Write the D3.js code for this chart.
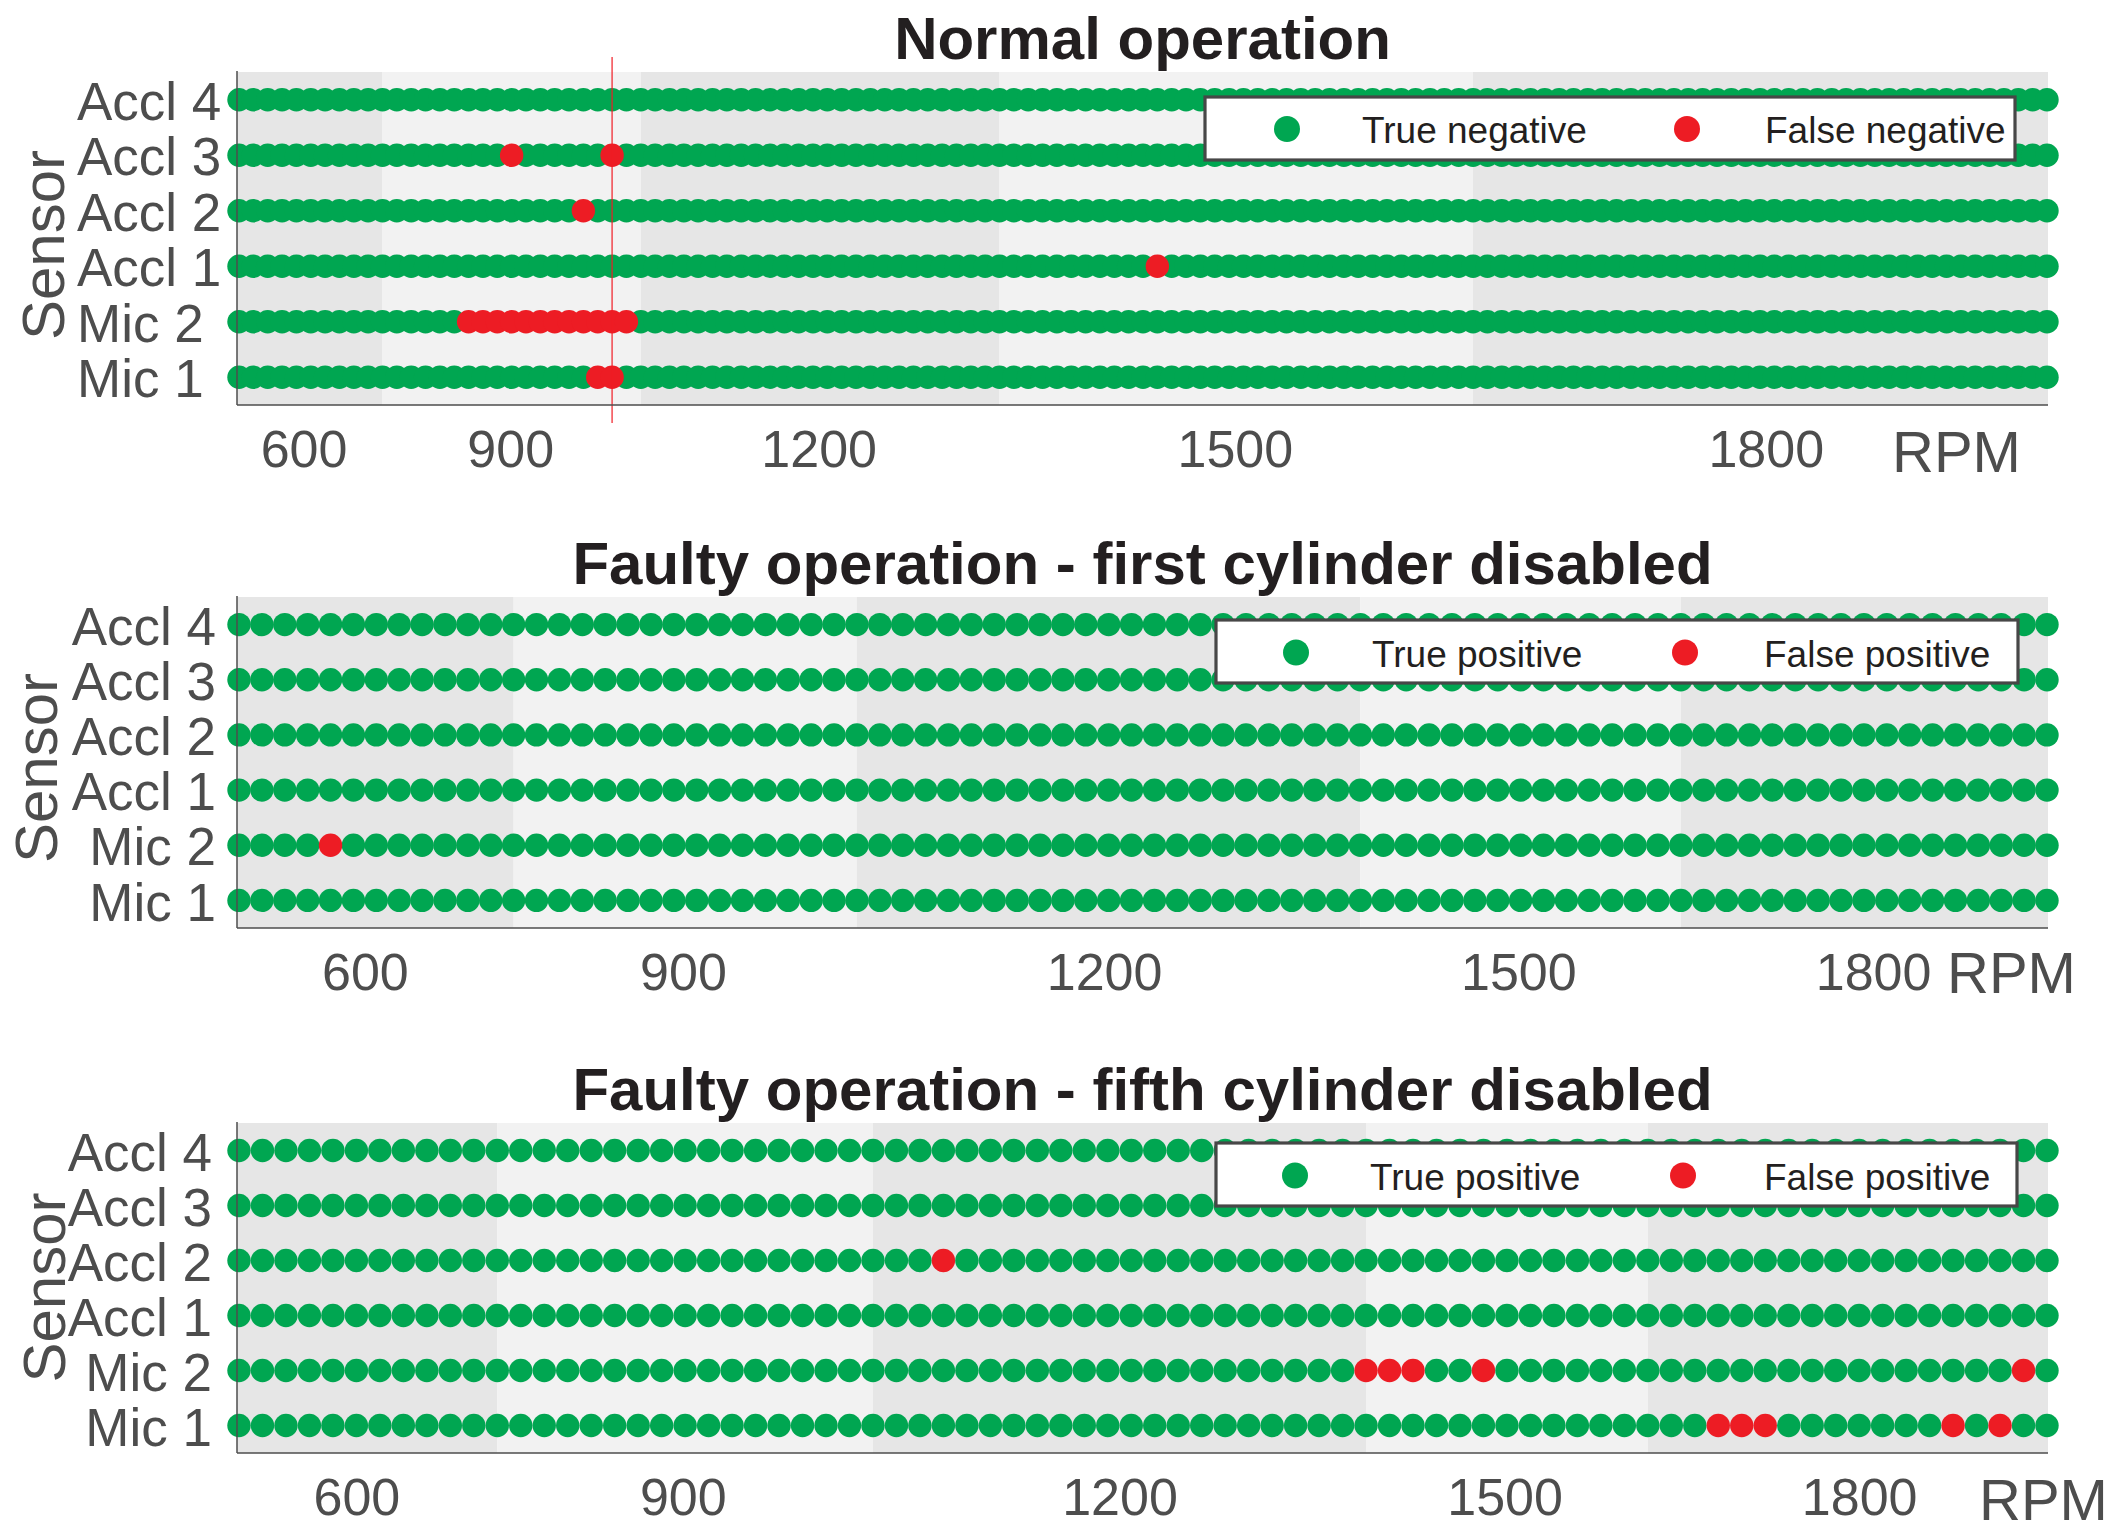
<!DOCTYPE html>
<html>
<head>
<meta charset="utf-8">
<script src="https://cdn.jsdelivr.net/npm/d3@7"></script>
<style>
  html, body { margin: 0; padding: 0; background: #ffffff; }
  svg { display: block; }
</style>
</head>
<body>
<svg id="chart" width="2124" height="1539"></svg>
<script>
// ---------------- data ----------------
const sensors = ["Accl 4", "Accl 3", "Accl 2", "Accl 1", "Mic 2", "Mic 1"];
const rpmTicks = [600, 900, 1200, 1500, 1800];

// Panel 1: normal operation
const normalTitle = "Normal operation";
const normalSamples = 127;
const normalTickIdx = [4.5, 18.9, 40.4, 69.4, 106.4];
const normalBandEdges = [10, 28, 53, 86];
const normalWrong = [
  ["Accl 3", 19], ["Accl 3", 26],
  ["Accl 2", 24],
  ["Accl 1", 64],
  ["Mic 2", 16], ["Mic 2", 17], ["Mic 2", 18], ["Mic 2", 19], ["Mic 2", 20], ["Mic 2", 21],
  ["Mic 2", 22], ["Mic 2", 23], ["Mic 2", 24], ["Mic 2", 25], ["Mic 2", 26], ["Mic 2", 27],
  ["Mic 1", 25], ["Mic 1", 26]
];
const normalMarker = [26];
const normalLegend = ["True negative", "False negative"];

// Panel 2: first cylinder disabled
const cyl1Title = "Faulty operation - first cylinder disabled";
const cyl1Samples = 80;
const cyl1TickIdx = [5.5, 19.4, 37.8, 55.9, 71.4];
const cyl1BandEdges = [12, 27, 49, 63];
const cyl1Wrong = [["Mic 2", 4]];
const cyl1Legend = ["True positive", "False positive"];

// Panel 3: fifth cylinder disabled
const cyl5Title = "Faulty operation - fifth cylinder disabled";
const cyl5Samples = 78;
const cyl5TickIdx = [5.0, 18.9, 37.5, 53.9, 69.0];
const cyl5BandEdges = [11, 27, 48, 60];
const cyl5Wrong = [
  ["Accl 2", 30],
  ["Mic 2", 48], ["Mic 2", 49], ["Mic 2", 50], ["Mic 2", 53], ["Mic 2", 76],
  ["Mic 1", 63], ["Mic 1", 64], ["Mic 1", 65], ["Mic 1", 73], ["Mic 1", 75]
];
const cyl5Legend = ["True positive", "False positive"];

// ---------------- styling / layout ----------------
const FONT = "'Liberation Sans', Arial, Helvetica, sans-serif";
const GREEN = "#00a651", RED = "#ed1c24";
const BAND_DARK = "#e6e6e6", BAND_LIGHT = "#f2f2f2";
const AXIS_GRAY = "#4d4d4d", TITLE_COL = "#231f20";
const PLOT_L = 237, PLOT_R = 2048, DOT_X0 = 239, DOT_X1 = 2047;
const DOT_R = 11.7;

const panels = [
  { title: normalTitle, n: normalSamples, ticks: normalTickIdx, bands: normalBandEdges,
    wrong: normalWrong, marker: normalMarker, legend: normalLegend,
    top: 72, bottom: 405, labelAnchor: "start", labelX: 77, sensorX: 64, sensorY: 245,
    rpmX: 1892, rpmY: 471.7,
    lg: { x0: 1205, x1: 2015, y0: 97, y1: 160, g: 1287, gt: 1362, r: 1687, rt: 1765, cy: 129 } },
  { title: cyl1Title, n: cyl1Samples, ticks: cyl1TickIdx, bands: cyl1BandEdges,
    wrong: cyl1Wrong, marker: [], legend: cyl1Legend,
    top: 597, bottom: 928, labelAnchor: "end", labelX: 216, sensorX: 57, sensorY: 768,
    rpmX: 1947, rpmY: 993.3,
    lg: { x0: 1216, x1: 2018, y0: 620, y1: 683, g: 1296, gt: 1372, r: 1685, rt: 1764, cy: 652.5 } },
  { title: cyl5Title, n: cyl5Samples, ticks: cyl5TickIdx, bands: cyl5BandEdges,
    wrong: cyl5Wrong, marker: [], legend: cyl5Legend,
    top: 1123, bottom: 1453, labelAnchor: "end", labelX: 212, sensorX: 65, sensorY: 1287.5,
    rpmX: 1979, rpmY: 1520,
    lg: { x0: 1216, x1: 2017, y0: 1143, y1: 1206, g: 1295, gt: 1370, r: 1683, rt: 1764, cy: 1175.5 } }
];

const svg = d3.select("#chart");
svg.append("rect").attr("x", 0).attr("y", 0).attr("width", 2124).attr("height", 1539).attr("fill", "#ffffff");

panels.forEach(p => {
  const g = svg.append("g");
  const x = d3.scaleLinear().domain([0, p.n - 1]).range([DOT_X0, DOT_X1]);
  const y = d3.scalePoint().domain(sensors).range([p.top, p.bottom]).padding(0.5);

  // background bands
  const edges = [PLOT_L].concat(p.bands.map(b => x(b))).concat([PLOT_R]);
  g.append("g").selectAll("rect").data(d3.pairs(edges)).join("rect")
    .attr("x", d => d[0]).attr("y", p.top)
    .attr("width", d => d[1] - d[0]).attr("height", p.bottom - p.top)
    .attr("fill", (d, i) => i % 2 === 0 ? BAND_DARK : BAND_LIGHT);

  // points
  const wrongSet = new Set(p.wrong.map(w => w[0] + "|" + w[1]));
  const pts = [];
  sensors.forEach(s => d3.range(p.n).forEach(i => pts.push({ s, i, bad: wrongSet.has(s + "|" + i) })));
  g.append("g").selectAll("circle").data(pts.filter(d => !d.bad)).join("circle")
    .attr("cx", d => x(d.i)).attr("cy", d => y(d.s)).attr("r", DOT_R).attr("fill", GREEN);
  g.append("g").selectAll("circle").data(pts.filter(d => d.bad)).join("circle")
    .attr("cx", d => x(d.i)).attr("cy", d => y(d.s)).attr("r", DOT_R).attr("fill", RED);

  // marker line
  g.append("g").selectAll("line").data(p.marker).join("line")
    .attr("x1", d => x(d)).attr("x2", d => x(d))
    .attr("y1", p.top - 15).attr("y2", p.bottom + 18)
    .attr("stroke", "#f01c24").attr("stroke-width", 1.2);

  // axis lines
  g.append("line").attr("x1", PLOT_L).attr("x2", PLOT_L).attr("y1", p.top - 1).attr("y2", p.bottom)
    .attr("stroke", AXIS_GRAY).attr("stroke-width", 1.5);
  g.append("line").attr("x1", PLOT_L).attr("x2", PLOT_R).attr("y1", p.bottom).attr("y2", p.bottom)
    .attr("stroke", AXIS_GRAY).attr("stroke-width", 1.5);

  // x axis tick labels
  const xa = g.append("g").attr("transform", `translate(0,${p.bottom})`)
    .call(d3.axisBottom(x).tickValues(p.ticks).tickFormat((d, i) => rpmTicks[i]).tickSize(0));
  xa.select(".domain").remove();
  xa.selectAll("text").attr("y", 61.7).attr("dy", null)
    .attr("font-family", FONT).attr("font-size", 52).attr("fill", AXIS_GRAY);

  // y axis tick labels
  const ya = g.append("g").attr("transform", `translate(${p.labelX},0)`)
    .call(d3.axisLeft(y).tickSize(0));
  ya.select(".domain").remove();
  ya.selectAll("text").attr("x", 0).attr("dy", "0.37em")
    .attr("text-anchor", p.labelAnchor)
    .attr("font-family", FONT).attr("font-size", 53).attr("fill", AXIS_GRAY);

  // Sensor label
  g.append("text").attr("transform", `translate(${p.sensorX},${p.sensorY}) rotate(-90)`)
    .attr("text-anchor", "middle").attr("font-family", FONT).attr("font-size", 60)
    .attr("fill", AXIS_GRAY).text("Sensor");

  // RPM label
  g.append("text").attr("x", p.rpmX).attr("y", p.rpmY)
    .attr("font-family", FONT).attr("font-size", 58).attr("fill", AXIS_GRAY).text("RPM");

  // title
  g.append("text").attr("x", (PLOT_L + PLOT_R) / 2).attr("y", p.top - 13)
    .attr("text-anchor", "middle").attr("font-family", FONT).attr("font-weight", "bold")
    .attr("font-size", 60).attr("fill", TITLE_COL).text(p.title);

  // legend
  const lg = p.lg;
  const L = g.append("g");
  L.append("rect").attr("x", lg.x0).attr("y", lg.y0).attr("width", lg.x1 - lg.x0).attr("height", lg.y1 - lg.y0)
    .attr("fill", "#ffffff").attr("stroke", "#474747").attr("stroke-width", 3.2);
  L.append("circle").attr("cx", lg.g).attr("cy", lg.cy).attr("r", 13).attr("fill", GREEN);
  L.append("circle").attr("cx", lg.r).attr("cy", lg.cy).attr("r", 13).attr("fill", RED);
  L.append("text").attr("x", lg.gt).attr("y", lg.cy + 14).attr("font-family", FONT).attr("font-size", 37)
    .attr("fill", TITLE_COL).text(p.legend[0]);
  L.append("text").attr("x", lg.rt).attr("y", lg.cy + 14).attr("font-family", FONT).attr("font-size", 37)
    .attr("fill", TITLE_COL).text(p.legend[1]);
});
</script>
</body>
</html>
